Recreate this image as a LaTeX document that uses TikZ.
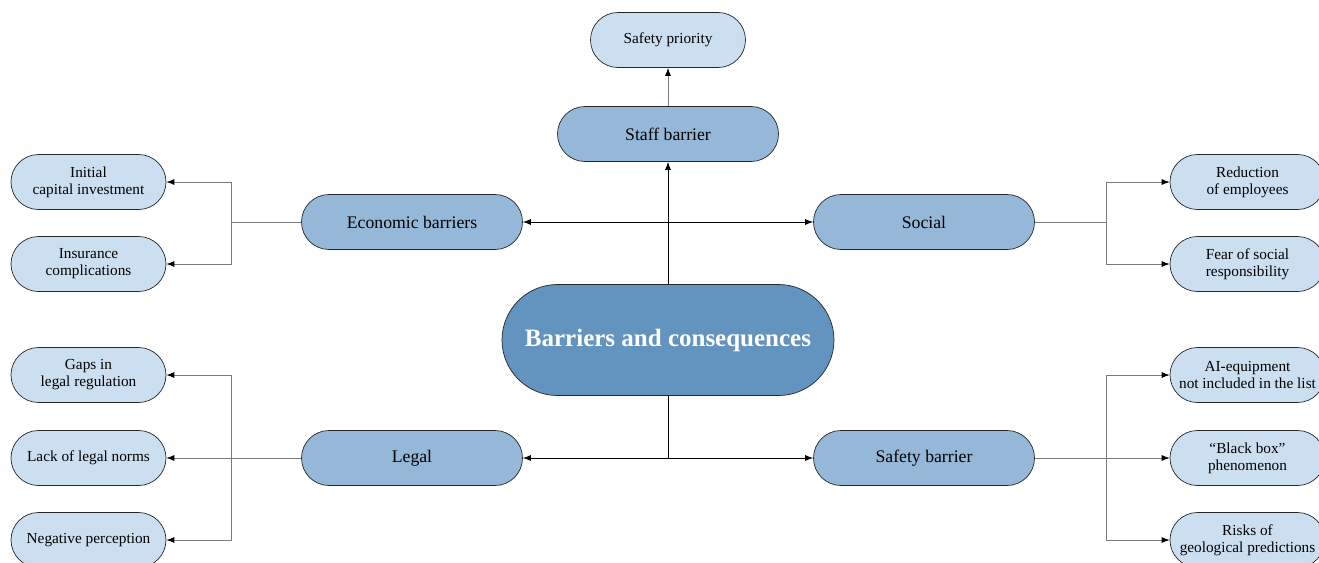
\documentclass[tikz,border=0pt]{standalone}
\usepackage{fontspec}
\setmainfont{Liberation Serif}
\usetikzlibrary{arrows.meta}
\definecolor{leaffill}{HTML}{CCDFF0}
\definecolor{midfill}{HTML}{95B8D9}
\definecolor{hubfill}{HTML}{6393BF}
\definecolor{linkgray}{HTML}{7A7A7A}
\begin{document}
\begin{tikzpicture}[x=1pt,y=-1pt,
  pill/.style={draw=black!85, line width=0.7pt, rectangle, inner sep=0pt, align=center},
  leaf/.style={pill, fill=leaffill, minimum width=155pt, minimum height=55pt, rounded corners=27.5pt, font=\fontsize{15.3}{17}\selectfont},
  branch/.style={pill, fill=midfill, minimum width=221pt, minimum height=55pt, rounded corners=27.5pt, font=\fontsize{17.7}{19}\selectfont},
  hub/.style={pill, fill=hubfill, minimum width=332pt, minimum height=111pt, rounded corners=55.5pt, text=white, font=\fontsize{25}{28}\selectfont\bfseries},
  link/.style={draw=linkgray, line width=0.8pt},
  tip/.style={-{Latex[length=8pt,width=6pt,color=black]}},
  tips/.style={{Latex[length=8pt,width=6pt,color=black]}-{Latex[length=8pt,width=6pt,color=black]}}
]
\useasboundingbox (0,0) rectangle (1319,562);

% central hub and the five barrier groups
\node[hub] (hub) at (668,340) {Barriers and consequences};
\node[branch] (staff) at (668,134) {Staff barrier};
\node[branch] (econ) at (412,222) {Economic barriers};
\node[branch] (social) at (924,222) {Social};
\node[branch] (legal) at (412,458) {Legal};
\node[branch] (safety) at (924,458) {Safety barrier};

% consequences
\node[leaf] (prio) at (668,40) {Safety priority};
\node[leaf] (capital) at (88.5,182) {Initial\\capital investment};
\node[leaf] (insur) at (88.5,264) {Insurance\\complications};
\node[leaf] (gaps) at (88.5,375) {Gaps in\\legal regulation};
\node[leaf] (norms) at (88.5,458) {Lack of legal norms};
\node[leaf] (negat) at (88.5,540) {Negative perception};
\node[leaf] (reduct) at (1247.5,182) {Reduction\\of employees};
\node[leaf] (fear) at (1247.5,264) {Fear of social\\responsibility};
\node[leaf] (aieq) at (1247.5,375) {AI-equipment\\not included in the list};
\node[leaf] (bbox) at (1247.5,458) {``Black box''\\phenomenon};
\node[leaf] (risks) at (1247.5,540) {Risks of\\geological predictions};

% bus points for the fan-out connectors
\coordinate (lbus) at (231,0);
\coordinate (rbus) at (1106,0);
\coordinate (low) at (668,458);

% hub connectors
\draw[link, draw=black, tip] (hub.north) -- (staff.south);
\draw[link, tip] (staff.north) -- (prio.south);
\draw[link, draw=black, tips] (econ.east) -- (social.west);
\draw[link, draw=black] (hub.south) -- (low);
\draw[link, draw=black, tip] (low) -- (legal.east);
\draw[link, draw=black, tip] (low) -- (safety.west);

% economic fan-out
\draw[link] (econ.west) -- (econ.west -| lbus);
\draw[link, tip] (econ.west -| lbus) |- (capital.east);
\draw[link, tip] (econ.west -| lbus) |- (insur.east);

% legal fan-out
\draw[link, tip] (legal.west) -- (norms.east);
\draw[link, tip] (legal.west -| lbus) |- (gaps.east);
\draw[link, tip] (legal.west -| lbus) |- (negat.east);

% social fan-out
\draw[link] (social.east) -- (social.east -| rbus);
\draw[link, tip] (social.east -| rbus) |- (reduct.west);
\draw[link, tip] (social.east -| rbus) |- (fear.west);

% safety fan-out
\draw[link, tip] (safety.east) -- (bbox.west);
\draw[link, tip] (safety.east -| rbus) |- (aieq.west);
\draw[link, tip] (safety.east -| rbus) |- (risks.west);
\end{tikzpicture}
\end{document}
